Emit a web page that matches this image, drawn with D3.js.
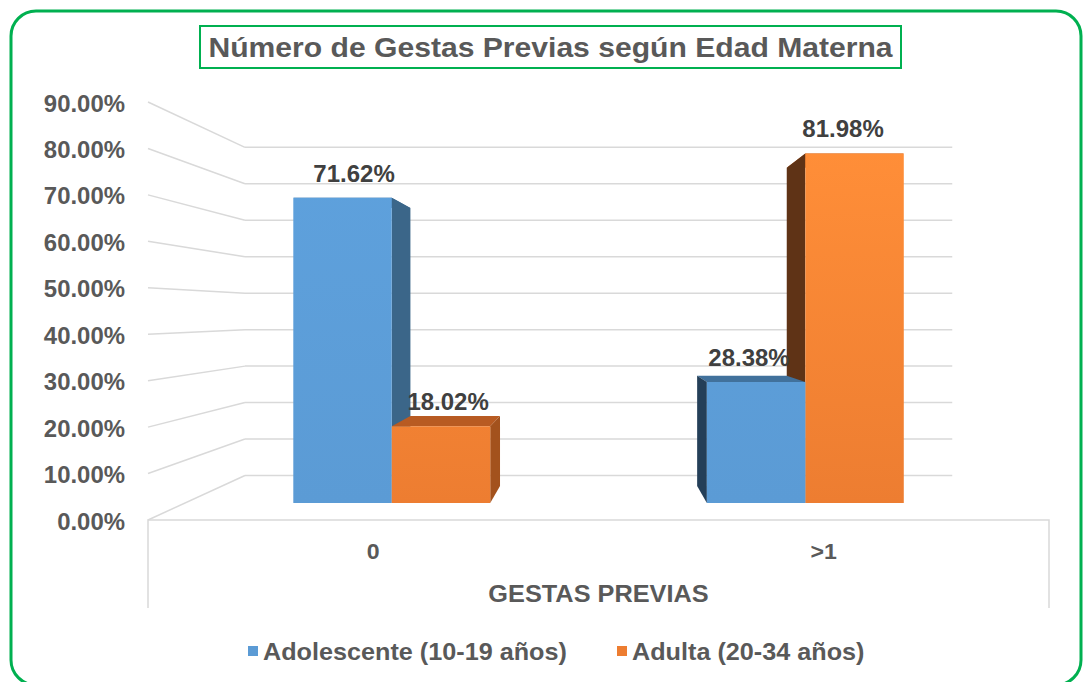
<!DOCTYPE html>
<html>
<head>
<meta charset="utf-8">
<script src="https://cdn.jsdelivr.net/npm/d3@7"></script>
<style>
  body { margin: 0; background: #fff; }
  text { font-family: 'Liberation Sans', Arial, sans-serif; font-weight: bold; }
</style>
</head>
<body>
<svg id="chart"></svg>
<script>
const categories = ['0', '>1']
const series = ['Adolescente (10-19 años)', 'Adulta (20-34 años)']
const adolescente = [71.62, 28.38]
const adulta = [18.02, 81.98]
const yTicks = [0, 10, 20, 30, 40, 50, 60, 70, 80, 90]
const title = 'Número de Gestas Previas según Edad Materna'
const axisTitle = 'GESTAS PREVIAS'

const width = 1083
const height = 682
const green = '#00b050'
const textColor = '#595959'
const gridColor = '#d9d9d9'

const colors = {
    front: ['#5b9bd5', '#ed7d31'],
    top: ['#41719c', '#b85b22'],
    sideR: ['#3b6689', '#a3521d'],
    sideL: ['#243f58', '#5f3316']
}
const shine = [0.1, 0.35]

const svg = d3.select('#chart')
    .attr('width', width)
    .attr('height', height)

// the excel font is a bit wider than liberation, stretch it out
const stretch = (sel, f) => sel.each(function () {
    const w = this.getComputedTextLength()
    d3.select(this).attr('textLength', w * f).attr('lengthAdjust', 'spacingAndGlyphs')
})

// fake 3d: everything is laid out on the front plane, then pulled toward a vanishing point
const vp = {x: 599, y: 313}
const kBack = 0.785
const kBar = 0.918
const kBarBack = kBar * 0.91
const proj = (x, y, k) => [vp.x + (x - vp.x) * k, vp.y + (y - vp.y) * k]

const yScale = d3.scaleLinear().domain([0, 90]).range([520, 102])
const x0 = d3.scaleBand().domain(categories).range([148, 1049])
const x1 = d3.scaleBand().domain(series).range([0, x0.bandwidth()]).paddingOuter(1.1)

// outer frame + title box
svg.append('rect')
    .attr('x', 11).attr('y', 11)
    .attr('width', 1070).attr('height', 674)
    .attr('rx', 25)
    .attr('fill', 'none')
    .attr('stroke', green)
    .attr('stroke-width', 3)

svg.append('rect')
    .attr('x', 200).attr('y', 26)
    .attr('width', 701).attr('height', 42)
    .attr('fill', 'none')
    .attr('stroke', green)
    .attr('stroke-width', 2)

svg.append('text')
    .attr('x', 550.5).attr('y', 57)
    .attr('text-anchor', 'middle')
    .attr('font-size', 28)
    .attr('fill', textColor)
    .text(title)
    .call(stretch, 1.075)

// walls
const grid = svg.append('g')
    .attr('stroke', gridColor)
    .attr('stroke-width', 1.5)
    .attr('fill', 'none')

const xl = x0.range()[0]
const xr = x0.range()[1]

grid.selectAll('.side').data(yTicks)
    .enter().append('path')
        .attr('d', d => d3.line()([[xl, yScale(d)], proj(xl, yScale(d), kBack)]))

grid.selectAll('.back').data(yTicks)
    .enter().append('path')
        .attr('d', d => d3.line()([proj(xl, yScale(d), kBack), proj(xr, yScale(d), kBack)]))

// floor front edge and the little frame under it
grid.append('path')
    .attr('d', d3.line()([[xl, 608], [xl, yScale(0)], [xr, yScale(0)], [xr, 608]]))

// y labels
svg.append('g').selectAll('text').data(yTicks)
    .enter().append('text')
        .attr('x', 125)
        .attr('y', d => yScale(d) + 9.5)
        .attr('text-anchor', 'end')
        .attr('font-size', 23)
        .attr('fill', textColor)
        .text(d => d.toFixed(2) + '%')
        .call(stretch, 1.04)

// bars
const bars = []
categories.forEach((c, i) => {
    [adolescente[i], adulta[i]].forEach((v, s) => {
        const xa = x0(c) + x1(series[s])
        bars.push({cat: c, s: s, v: v, xa: xa, xb: xa + x1.bandwidth()})
    })
})
// farthest from the vanishing point first
bars.sort((a, b) => Math.abs((b.xa + b.xb) / 2 - vp.x) - Math.abs((a.xa + a.xb) / 2 - vp.x))

const defs = svg.append('defs')
bars.forEach((d, i) => {
    const base = d3.color(colors.front[d.s])
    const g = defs.append('linearGradient')
        .attr('id', 'g' + i)
        .attr('gradientUnits', 'userSpaceOnUse')
        .attr('x1', 0).attr('x2', 0)
        .attr('y1', 150).attr('y2', proj(0, yScale(0), kBar)[1])
    g.append('stop').attr('offset', 0).attr('stop-color', base.brighter(shine[d.s]))
    g.append('stop').attr('offset', 1).attr('stop-color', base)
    d.grad = 'url(#g' + i + ')'
})

const poly = pts => 'M' + pts.map(p => p.join(',')).join('L') + 'Z'
const barG = svg.append('g')
bars.forEach(d => {
    const yt = yScale(d.v)
    const y0 = yScale(0)
    barG.append('path')
        .attr('d', poly([proj(d.xa, yt, kBar), proj(d.xb, yt, kBar), proj(d.xb, yt, kBarBack), proj(d.xa, yt, kBarBack)]))
        .attr('fill', colors.top[d.s])
    const right = d.xb <= vp.x
    const xe = right ? d.xb : d.xa
    barG.append('path')
        .attr('d', poly([proj(xe, yt, kBar), proj(xe, yt, kBarBack), proj(xe, y0, kBarBack), proj(xe, y0, kBar)]))
        .attr('fill', right ? colors.sideR[d.s] : colors.sideL[d.s])
    barG.append('path')
        .attr('d', poly([proj(d.xa, yt, kBar), proj(d.xb, yt, kBar), proj(d.xb, y0, kBar), proj(d.xa, y0, kBar)]))
        .attr('fill', d.grad)
})

// value labels
svg.append('g').selectAll('text').data(bars)
    .enter().append('text')
        .attr('x', d => {
            const xm = (d.xa + d.xb) / 2
            return (proj(xm, 0, kBar)[0] + proj(xm, 0, kBarBack)[0]) / 2
        })
        .attr('y', d => proj(0, yScale(d.v), kBar)[1] - 16)
        .attr('text-anchor', 'middle')
        .attr('font-size', 24)
        .attr('fill', '#404040')
        .text(d => d.v.toFixed(2) + '%')

// category labels + axis title
svg.append('g').selectAll('text').data(categories)
    .enter().append('text')
        .attr('x', d => x0(d) + x0.bandwidth() / 2)
        .attr('y', 559)
        .attr('text-anchor', 'middle')
        .attr('font-size', 22)
        .attr('fill', textColor)
        .text(d => d)
        .call(stretch, 1.05)

svg.append('text')
    .attr('x', (xl + xr) / 2).attr('y', 601.5)
    .attr('text-anchor', 'middle')
    .attr('font-size', 23)
    .attr('fill', textColor)
    .text(axisTitle)
    .call(stretch, 1.1)

// legend
const legendX = [248, 617]
const legend = svg.append('g').selectAll('g').data(series)
    .enter().append('g')
        .attr('transform', (d, i) => `translate(${legendX[i]},651)`)
legend.append('rect')
    .attr('x', 0).attr('y', -5)
    .attr('width', 10).attr('height', 10)
    .attr('fill', (d, i) => colors.front[i])
legend.append('text')
    .attr('x', 15).attr('y', 8.5)
    .attr('font-size', 24)
    .attr('fill', textColor)
    .text(d => d)
    .call(stretch, 1.05)
</script>
</body>
</html>
